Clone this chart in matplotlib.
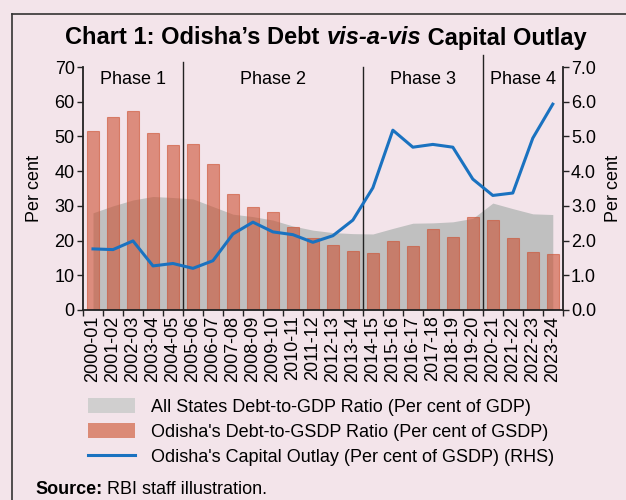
import matplotlib.pyplot as plt
import numpy as np
from matplotlib.patches import Patch
from matplotlib.lines import Line2D

plt.rcParams['font.family'] = ['Liberation Sans', 'DejaVu Sans']

years = ["2000-01", "2001-02", "2002-03", "2003-04", "2004-05", "2005-06",
         "2006-07", "2007-08", "2008-09", "2009-10", "2010-11", "2011-12",
         "2012-13", "2013-14", "2014-15", "2015-16", "2016-17", "2017-18",
         "2018-19", "2019-20", "2020-21", "2021-22", "2022-23", "2023-24"]

# All States debt-to-GDP (per cent of GDP)
all_states_debt = [28.0, 30.0, 31.7, 32.7, 32.4, 32.0, 29.8, 27.6, 26.9, 25.9,
                   24.2, 23.0, 22.3, 22.0, 21.9, 23.5, 25.0, 25.1, 25.4, 26.4,
                   30.8, 29.2, 27.7, 27.5]

# Odisha debt-to-GSDP (per cent of GSDP)
odisha_debt = [51.6, 55.5, 57.2, 51.1, 47.5, 47.7, 42.2, 33.3, 29.6, 28.2,
               23.9, 20.8, 18.7, 17.0, 16.3, 19.9, 18.3, 23.4, 21.1, 26.8,
               26.0, 20.7, 16.7, 16.0]

# Odisha capital outlay (per cent of GSDP), RHS
capital_outlay = [1.76, 1.74, 1.99, 1.27, 1.34, 1.20, 1.42, 2.19, 2.53, 2.25,
                  2.17, 1.95, 2.14, 2.59, 3.52, 5.18, 4.69, 4.77, 4.69, 3.77,
                  3.30, 3.37, 4.95, 5.93]

phase_names = ["Phase 1", "Phase 2", "Phase 3", "Phase 4"]
phase_bounds = [-0.5, 4.5, 13.5, 19.5, 23.5]

bg = "#f3e4ea"
gray = "#c0c0c0"
bar_col = (0.80, 0.30, 0.18)
blue = "#1a72c0"
dark = "#222222"
fs = 13

fig = plt.figure(figsize=(6.26, 5.0), dpi=100, facecolor=bg)
ax = fig.add_axes([0.1326, 0.38, 0.899 - 0.1326, 0.486])
ax.set_facecolor(bg)
x = np.arange(len(years))

ax.fill_between(x, 0, all_states_debt, color=gray, lw=0, zorder=1)
ax.bar(x, odisha_debt, width=0.6, color=bar_col, alpha=0.58,
       edgecolor=(0.80, 0.30, 0.18, 0.8), linewidth=0.8, zorder=2)

ax.set_xlim(-0.5, 23.5)
ax.set_ylim(0, 70)
ax.set_yticks(range(0, 71, 10))
ax.set_xticks(x)
ax.set_xticklabels(years, rotation=90, fontsize=fs)
ax.tick_params(axis='x', length=0, pad=4)
ax.set_xticks(np.arange(-0.5, 24, 1), minor=True)
ax.tick_params(axis='x', which='minor', length=4, color=dark, width=1)
ax.tick_params(axis='y', labelsize=fs, length=4, color=dark, width=1, pad=2)
ax.set_ylabel("Per cent", fontsize=fs, labelpad=8)
for s in ['top', 'right']:
    ax.spines[s].set_visible(False)
for s in ['left', 'bottom']:
    ax.spines[s].set_color(dark)
    ax.spines[s].set_linewidth(1.3)

ax2 = ax.twinx()
ax2.plot(x, capital_outlay, color=blue, lw=2.2, zorder=5)
ax2.set_ylim(0, 7)
ax2.set_yticks(np.arange(0, 7.1, 1))
ax2.set_yticklabels([f"{v:.1f}" for v in np.arange(0, 7.1, 1)])
ax2.tick_params(axis='y', labelsize=fs, length=4, color=dark, width=1, pad=2)
ax2.set_ylabel("Per cent", fontsize=fs, labelpad=6)
for s in ['top', 'left', 'bottom']:
    ax2.spines[s].set_visible(False)
ax2.spines['right'].set_color(dark)
ax2.spines['right'].set_linewidth(1.3)

# phase dividers and labels
tops = [None, 1.02, 1.0, 1.05]
for i in range(1, 4):
    ax.axvline(phase_bounds[i], 0, tops[i], color=dark, lw=1, clip_on=False, zorder=6)
for i, name in enumerate(phase_names):
    ax.text((phase_bounds[i] + phase_bounds[i + 1]) / 2, 66.5, name,
            ha='center', va='center', fontsize=fs, zorder=7)

handles = [Patch(facecolor="#d0cfcf", edgecolor='none'),
           Patch(facecolor="#db8a76", edgecolor='none'),
           Line2D([0], [0], color=blue, lw=2.2)]
labels = ["All States Debt-to-GDP Ratio (Per cent of GDP)",
          "Odisha's Debt-to-GSDP Ratio (Per cent of GSDP)",
          "Odisha's Capital Outlay (Per cent of GSDP) (RHS)"]
fig.legend(handles, labels, loc='upper left', bbox_to_anchor=(88 / 626, 1 - 398 / 500),
           frameon=False, fontsize=fs, handlelength=2.6, handleheight=0.9,
           handletextpad=0.9, labelspacing=0.42, borderpad=0, borderaxespad=0)

# title in pieces so "vis-a-vis" can be bold italic
fig.canvas.draw()
renderer = fig.canvas.get_renderer()
title_parts = [("Chart 1: Odisha\u2019s Debt ", 'normal'), ("vis-a-vis", 'italic'),
               (" Capital Outlay", 'normal')]
ty = 1 - 38 / 500
pieces = []
for txt, style in title_parts:
    t = fig.text(0, ty, txt, fontsize=17, fontweight='bold', style=style, va='center')
    pieces.append(t)
widths = [p.get_window_extent(renderer).width for p in pieces]
xpos = 326 - sum(widths) / 2
for p, w in zip(pieces, widths):
    p.set_x(xpos / 626)
    xpos += w

src = fig.text(35 / 626, 1 - 490 / 500, "Source:", fontsize=fs, fontweight='bold', va='center')
sw = src.get_window_extent(renderer).width
fig.text((35 + sw + 5) / 626, 1 - 490 / 500, "RBI staff illustration.", fontsize=fs, va='center')

# frame around the chart (top and left edges visible)
fig.add_artist(Line2D([12 / 626, 1.0], [1 - 14 / 500, 1 - 14 / 500],
                      transform=fig.transFigure, color="#333333", lw=1.2))
fig.add_artist(Line2D([12 / 626, 12 / 626], [0, 1 - 14 / 500],
                      transform=fig.transFigure, color="#333333", lw=1.2))

plt.savefig("out.png", dpi=100, facecolor=bg)
